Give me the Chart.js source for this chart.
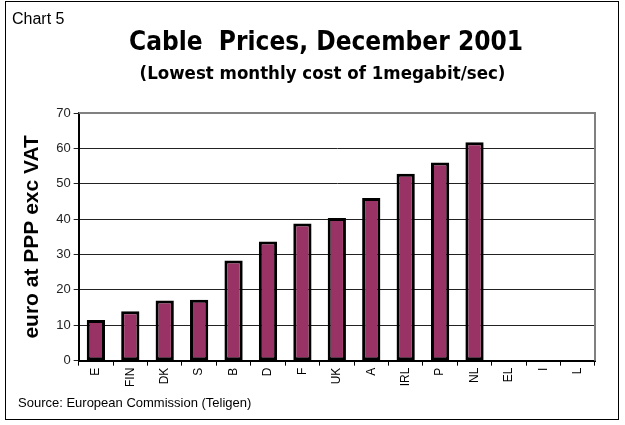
<!DOCTYPE html>
<html>
<head>
<meta charset="utf-8">
<script src="https://cdn.jsdelivr.net/npm/chart.js@4/dist/chart.umd.min.js"></script>
<style>
  html, body { margin: 0; padding: 0; background: #fff; }
  #wrap { position: relative; width: 625px; height: 425px; }
  #frame { position: absolute; left: 5px; top: 1px; width: 614px; height: 419px; border: 1px solid #000; box-sizing: border-box; pointer-events: none; }
  .txt { position: absolute; color: #000; white-space: nowrap; }
  #tag { left: 12px; top: 10px; font: 16px "Liberation Sans", Arial, sans-serif; }
  #title { left: 0; width: 652px; text-align: center; top: 26px; font: bold 26px "DejaVu Sans Condensed", "DejaVu Sans", sans-serif; }
  #subtitle { left: 0; width: 645px; text-align: center; top: 62px; font: bold 18.5px "DejaVu Sans Condensed", "DejaVu Sans", sans-serif; }
  #source { left: 18px; top: 395px; font: 13px "Liberation Sans", Arial, sans-serif; }
</style>
</head>
<body>
<div id="wrap">
  <canvas id="chart" width="625" height="425"></canvas>
  <div id="frame"></div>
  <div class="txt" id="tag">Chart 5</div>
  <div class="txt" id="title">Cable&nbsp; Prices, December 2001</div>
  <div class="txt" id="subtitle">(Lowest monthly cost of 1megabit/sec)</div>
  <div class="txt" id="source">Source: European Commission (Teligen)</div>
</div>
<script>
// Valores (EL, I y L sin dato)
const COUNTRIES = ['E', 'FIN', 'DK', 'S', 'B', 'D', 'F', 'UK', 'A', 'IRL', 'P', 'NL', 'EL', 'I', 'L'];
const PRICES = [11.5, 14, 17, 17.2, 28.3, 33.7, 38.8, 40.3, 46, 52.8, 56, 61.7, null, null, null];
const Y_TICKS = [0, 10, 20, 30, 40, 50, 60, 70];

const BAR_COLOR = '#993366';

// Marco gris arriba y a la derecha del área de trazado, como en Excel
const plotFrame = {
  id: 'plotFrame',
  beforeDatasetsDraw(chart) {
    const { ctx, chartArea: a } = chart;
    ctx.save();
    ctx.strokeStyle = '#808080';
    ctx.lineWidth = 2;
    ctx.beginPath();
    ctx.moveTo(a.left, a.top);
    ctx.lineTo(a.right, a.top);
    ctx.lineTo(a.right, a.bottom);
    ctx.stroke();
    ctx.restore();
  }
};

new Chart(document.getElementById('chart'), {
  type: 'bar',
  data: {
    labels: COUNTRIES,
    datasets: [{
      data: PRICES,
      backgroundColor: BAR_COLOR,
      borderColor: '#000',
      borderWidth: 3,
      borderSkipped: false,
      barPercentage: 0.53,
      categoryPercentage: 1
    }]
  },
  options: {
    responsive: false,
    animation: false,
    layout: { padding: { top: 113, left: 20, right: 30, bottom: 36 } },
    plugins: { legend: { display: false }, tooltip: { enabled: false } },
    scales: {
      x: {
        offset: true,
        grid: { offset: true, drawOnChartArea: false, color: '#000', tickLength: 5 },
        border: { color: '#000', width: 2 },
        ticks: {
          color: '#000',
          maxRotation: 90,
          minRotation: 90,
          autoSkip: false,
          padding: 2,
          font: { family: '"Liberation Sans", Arial, sans-serif', size: 12 }
        }
      },
      y: {
        min: 0,
        max: 70,
        afterBuildTicks: s => { s.ticks = Y_TICKS.map(v => ({ value: v })); },
        grid: { color: '#222', lineWidth: 1, tickLength: 5 },
        border: { color: '#000', width: 2 },
        ticks: {
          color: '#222',
          padding: 3,
          font: { family: '"Liberation Sans", Arial, sans-serif', size: 13 }
        },
        title: {
          display: true,
          text: 'euro at PPP exc VAT',
          color: '#000',
          padding: { top: 0, bottom: 8 },
          font: { family: '"Liberation Sans", Arial, sans-serif', size: 21, weight: 'bold' }
        }
      }
    }
  },
  plugins: [plotFrame]
});
</script>
</body>
</html>
